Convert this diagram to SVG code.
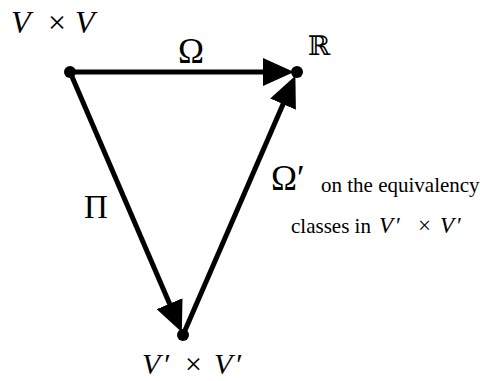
<svg xmlns="http://www.w3.org/2000/svg" width="480" height="381" viewBox="0 0 480 381">
<style>
text{font-family:"Liberation Serif","DejaVu Serif",serif;fill:#000}
.i{font-style:italic}
.e{stroke:#000;stroke-width:5;fill:none}
</style>
<defs>
<marker id="ah" markerUnits="userSpaceOnUse" markerWidth="32" markerHeight="28" refX="22" refY="14" orient="auto" viewBox="0 0 32 28">
<path d="M0,0 L31,14 L0,28 z" fill="#000"/>
</marker>
</defs>
<g id="edges">
<line class="e" x1="70" y1="72" x2="285" y2="72" marker-end="url(#ah)"/>
<line class="e" x1="70" y1="72" x2="178.3" y2="323.9" marker-end="url(#ah)"/>
<line class="e" x1="183" y1="335" x2="291.8" y2="84" marker-end="url(#ah)"/>
</g>
<g id="nodeVV">
<circle cx="70" cy="72" r="6"/>
<text y="33" font-size="32"><tspan class="i" x="11">V</tspan><tspan x="48">×</tspan><tspan class="i" x="75">V</tspan></text>
</g>
<g id="nodeR">
<circle cx="297" cy="72" r="6"/>
<text x="308" y="55" font-size="27" font-family="DejaVu Serif">ℝ</text>
</g>
<g id="nodeVpVp">
<circle cx="183" cy="335" r="6"/>
<text y="374" font-size="30"><tspan class="i" x="142">V</tspan><tspan dx="4">′</tspan><tspan x="185">×</tspan><tspan class="i" x="214">V</tspan><tspan dx="4">′</tspan></text>
</g>
<g id="labels">
<text x="178" y="63" font-size="35">Ω</text>
<text x="84" y="218" font-size="33">Π</text>
<text x="271" y="190" font-size="35">Ω′</text>
<text x="321" y="192" font-size="21">on the equivalency</text>
<text y="233" font-size="21"><tspan x="291">classes in</tspan><tspan class="i" x="379" font-size="23">V</tspan><tspan dx="3" font-size="23">′</tspan><tspan x="418" font-size="23">×</tspan><tspan class="i" x="440" font-size="23">V</tspan><tspan dx="3" font-size="23">′</tspan></text>
</g>
</svg>
